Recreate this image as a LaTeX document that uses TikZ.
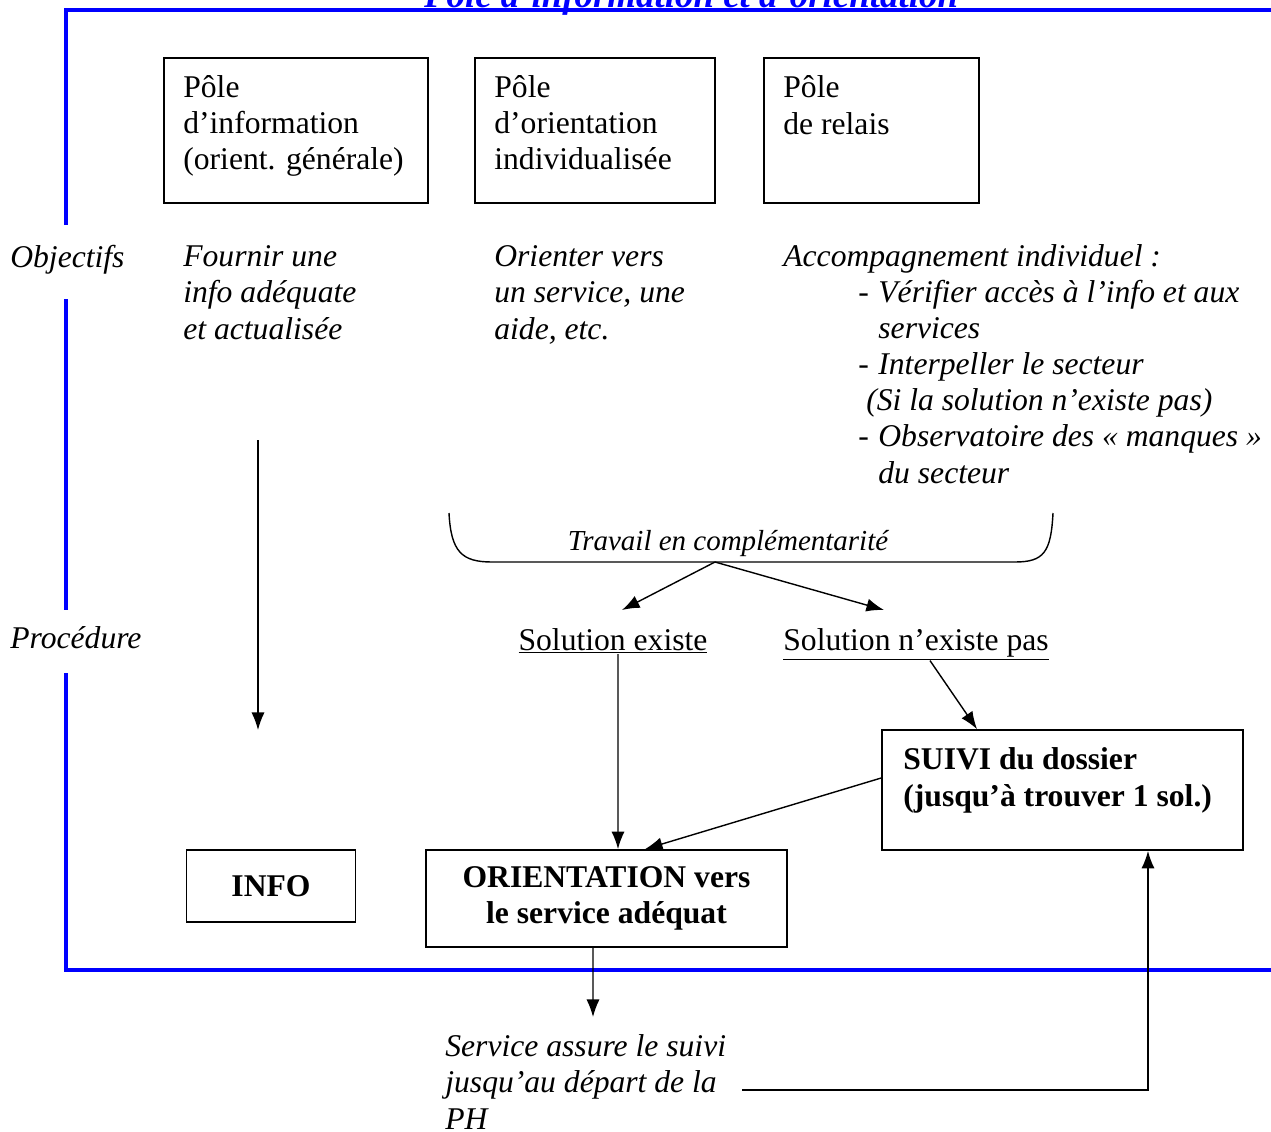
\documentclass[tikz,border=0pt]{standalone}
\usepackage{fontspec}
\setmainfont{Liberation Serif}
\usetikzlibrary{arrows.meta}

\newcommand{\taille}{\fontsize{18}{20.5}\selectfont}
\newcommand{\tiret}{\makebox[11.4pt][l]{-}}

\tikzset{
  boite/.style={draw, line width=1pt, inner sep=0pt},
  texte/.style={anchor=base west, inner sep=0pt, align=left},
  ital/.style={font=\taille\itshape},
  gras/.style={font=\taille\bfseries},
  fleche/.style={line width=0.8pt, -{Latex[length=10pt,width=7.5pt]}},
  cadre/.style={blue, line width=2.2pt}
}

\begin{document}
\begin{tikzpicture}[x=0.02cm, y=-0.02cm, font=\taille]
\useasboundingbox (0,0) rectangle (1271,1132);

% cadre bleu
\draw[cadre] (1280,10) -- (66,10) -- (66,225);
\draw[cadre] (66,299) -- (66,610);
\draw[cadre] (66,673) -- (66,970) -- (1280,970);
\node[anchor=base, inner sep=0pt, blue, font=\fontsize{21}{24}\selectfont\bfseries\itshape] (titre) at (691,8) {Pôle d’information et d’orientation};

% les trois poles (base = derniere ligne)
\node[boite, anchor=north west, minimum width=5.28cm, minimum height=2.9cm] (pole1) at (163,57) {};
\node[boite, anchor=north west, minimum width=4.8cm, minimum height=2.9cm] (pole2) at (474,57) {};
\node[boite, anchor=north west, minimum width=4.3cm, minimum height=2.9cm] (pole3) at (763,57) {};
\node[texte] (pole1txt) at (183,170) {Pôle\\d’information\\(orient. générale)};
\node[texte] (pole2txt) at (494,170) {Pôle\\d’orientation\\individualisée};
\node[texte] (pole3txt) at (783,134) {Pôle\\de relais};

% objectifs
\node[texte, ital] (objectifs) at (10,267) {Objectifs};
\node[texte, ital] (obj1) at (183,339) {Fournir une\\info adéquate\\et actualisée};
\node[texte, ital] (obj2) at (494,339) {Orienter vers\\un service, une\\aide, etc.};
\node[texte, ital] (obj3) at (783,483) {Accompagnement individuel :\\
  \hspace*{42.7pt}\tiret Vérifier accès à l’info et aux\\
  \hspace*{54.1pt}services\\
  \hspace*{42.7pt}\tiret Interpeller le secteur\\
  \hspace*{47.2pt}(Si la solution n’existe pas)\\
  \hspace*{42.7pt}\tiret Observatoire des « manques »\\
  \hspace*{54.1pt}du secteur};

% procedure
\node[texte, ital] (procedure) at (10,648) {Procédure};
\draw[line width=0.8pt] (449,513) .. controls (451,552) and (462,562) .. (492,562) -- (1015,562) .. controls (1044,562) and (1051,552) .. (1053,513);
\coordinate (jonction) at (715,562);
\node[anchor=base, inner sep=0pt, font=\fontsize{16.5}{19}\selectfont\itshape] (travail) at (728,550) {Travail en complémentarité};
\node[anchor=base, inner sep=0pt] (existe) at (613,650) {\underline{Solution existe}};
\node[anchor=base, inner sep=0pt] (nexiste) at (916,650) {\underline{Solution n’existe pas}};

\node[boite, gras, minimum width=3.38cm, minimum height=1.44cm] (info) at (271,886) {INFO};
\node[boite, gras, align=center, minimum width=7.22cm, minimum height=1.94cm] (orientation) at (606.5,898.5) {ORIENTATION vers\\le service adéquat};
\node[boite, minimum width=7.22cm, minimum height=2.4cm] (suivi) at (1062.5,790) {};
\node[texte, gras] (suivitxt) at (903,806) {SUIVI du dossier\\(jusqu’à trouver 1 sol.)};
\node[texte, ital] (service) at (445,1129) {Service assure le suivi\\jusqu’au départ de la\\PH};

% fleches
\coordinate (g1) at (258,440);
\coordinate (g2) at (258,730);
\draw[fleche] (g1) -- (g2);
\draw[fleche] (jonction) -- ([shift={(9,-40)}]existe.base);
\draw[fleche] (jonction) -- ([shift={(-32,-40)}]nexiste.base);
\draw[fleche] ([xshift=0.1cm]existe.south) -- ([xshift=0.23cm]orientation.north);
\draw[fleche] ([xshift=0.28cm]nexiste.south) -- ([xshift=-1.71cm]suivi.north);
\draw[fleche] ([yshift=0.24cm]suivi.west) -- ([xshift=0.77cm]orientation.north);
\coordinate (srvhaut) at (593,1017);
\draw[fleche] ([xshift=-0.27cm]orientation.south) -- (srvhaut);
\coordinate (srv) at (742,1090);
\draw[fleche] (srv) -| ([xshift=1.71cm]suivi.south);
\end{tikzpicture}
\end{document}
